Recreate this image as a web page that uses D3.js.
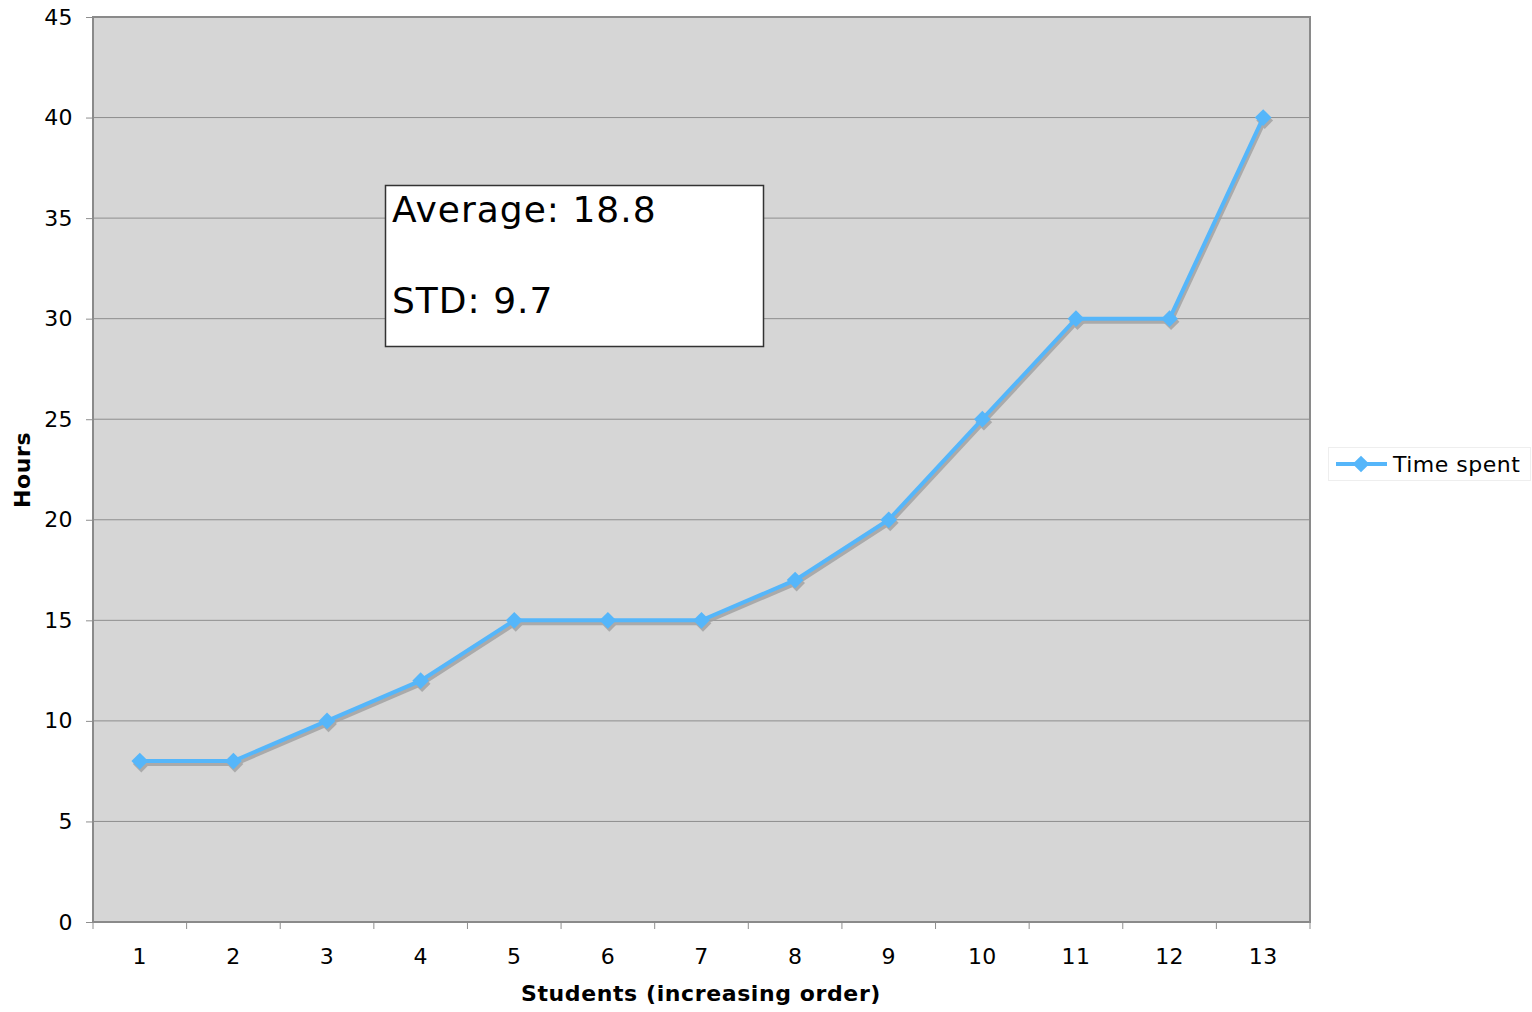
<!DOCTYPE html>
<html><head><meta charset="utf-8">
<script src="https://cdn.jsdelivr.net/npm/d3@7"></script>
<style>body{margin:0;background:#fff;} svg{display:block;font-family:"DejaVu Sans",Verdana,sans-serif;}</style>
</head><body>
<svg id="c" width="1532" height="1012"></svg>
<script>
const categories = ["1","2","3","4","5","6","7","8","9","10","11","12","13"];
const hours = [8,8,10,12,15,15,15,17,20,25,30,30,40];
const yTicks = [0,5,10,15,20,25,30,35,40,45];
const seriesName = "Time spent";
const annotation = ["Average: 18.8","STD: 9.7"];
const xTitle = "Students (increasing order)";
const yTitle = "Hours";

const svg = d3.select("#c");
const L=93, R=1310, T=17, B=922;
const x = d3.scaleBand().domain(categories).range([L,R]);
const y = d3.scaleLinear().domain([0,45]).range([B,T]);
const blue = "#55b6fa";

svg.append("rect").attr("x",L).attr("y",T).attr("width",R-L).attr("height",B-T).attr("fill","#d6d6d6");
// gridlines
svg.append("g").selectAll("line").data(yTicks.filter(d=>d>0&&d<45)).join("line")
  .attr("x1",L).attr("x2",R).attr("y1",d=>y(d)).attr("y2",d=>y(d))
  .attr("stroke","#8e8e8e").attr("stroke-width",1);

// y axis
const ya = svg.append("g").attr("transform",`translate(${L},0)`)
  .call(d3.axisLeft(y).tickValues(yTicks).tickSize(7).tickPadding(13));
ya.select(".domain").remove();
ya.selectAll("line").attr("stroke","#8e8e8e");
ya.selectAll("text").attr("font-size",22).attr("fill","#000").attr("font-family","DejaVu Sans").attr("letter-spacing",0.4);

// x axis ticks at band boundaries
const bounds = categories.map(c=>x(c)).concat([R]);
svg.append("g").selectAll("line").data(bounds).join("line")
  .attr("x1",d=>d).attr("x2",d=>d).attr("y1",B).attr("y2",B+7).attr("stroke","#8e8e8e");
svg.append("g").selectAll("text").data(categories).join("text")
  .attr("x",d=>x(d)+x.bandwidth()/2).attr("y",964).attr("text-anchor","middle")
  .attr("font-size",22).attr("letter-spacing",0.4).text(d=>d);

// border
svg.append("rect").attr("x",L).attr("y",T).attr("width",R-L).attr("height",B-T)
  .attr("fill","none").attr("stroke","#8a8a8a").attr("stroke-width",2);

// shadow line
const line = d3.line().x((d,i)=>x(categories[i])+x.bandwidth()/2).y(d=>y(d));
const sh = svg.append("g").attr("transform","translate(1.5,3)").attr("opacity",0.8);
sh.append("path").datum(hours).attr("d",line).attr("fill","none").attr("stroke","#a0a0a0").attr("stroke-width",4);
const diamond = d3.symbol().type(d3.symbolSquare).size(140);
sh.selectAll("path.m").data(hours).join("path").attr("class","m")
  .attr("d",diamond).attr("transform",(d,i)=>`translate(${x(categories[i])+x.bandwidth()/2},${y(d)}) rotate(45)`)
  .attr("fill","#a0a0a0");
svg.append("path").datum(hours).attr("d",line).attr("fill","none").attr("stroke",blue).attr("stroke-width",4);
svg.append("g").selectAll("path").data(hours).join("path")
  .attr("d",diamond).attr("transform",(d,i)=>`translate(${x(categories[i])+x.bandwidth()/2},${y(d)}) rotate(45)`)
  .attr("fill",blue);

// annotation box
svg.append("rect").attr("x",385.5).attr("y",185.5).attr("width",378).attr("height",161)
  .attr("fill","#fff").attr("stroke","#333").attr("stroke-width",1.5);
svg.append("g").selectAll("text").data(annotation).join("text")
  .attr("x",392).attr("y",(d,i)=>222+i*91).attr("font-size",36).attr("letter-spacing",1).text(d=>d);

// axis titles
svg.append("text").attr("x",701).attr("y",1001).attr("text-anchor","middle")
  .attr("font-size",22).attr("font-weight","bold").attr("letter-spacing",0.6).text(xTitle);
svg.append("text").attr("transform","translate(30,470) rotate(-90)").attr("text-anchor","middle")
  .attr("font-size",22).attr("font-weight","bold").attr("letter-spacing",0.6).text(yTitle);

// legend
svg.append("rect").attr("x",1328.5).attr("y",447.5).attr("width",202).attr("height",33)
  .attr("fill","#fff").attr("stroke","#eee");
svg.append("line").attr("x1",1336).attr("x2",1387).attr("y1",464).attr("y2",464).attr("stroke",blue).attr("stroke-width",4);
svg.append("path").attr("d",diamond).attr("transform","translate(1361,464) rotate(45)").attr("fill",blue);
svg.append("text").attr("x",1393).attr("y",472).attr("font-size",22).attr("letter-spacing",0.5).text(seriesName);
</script>
</body></html>
